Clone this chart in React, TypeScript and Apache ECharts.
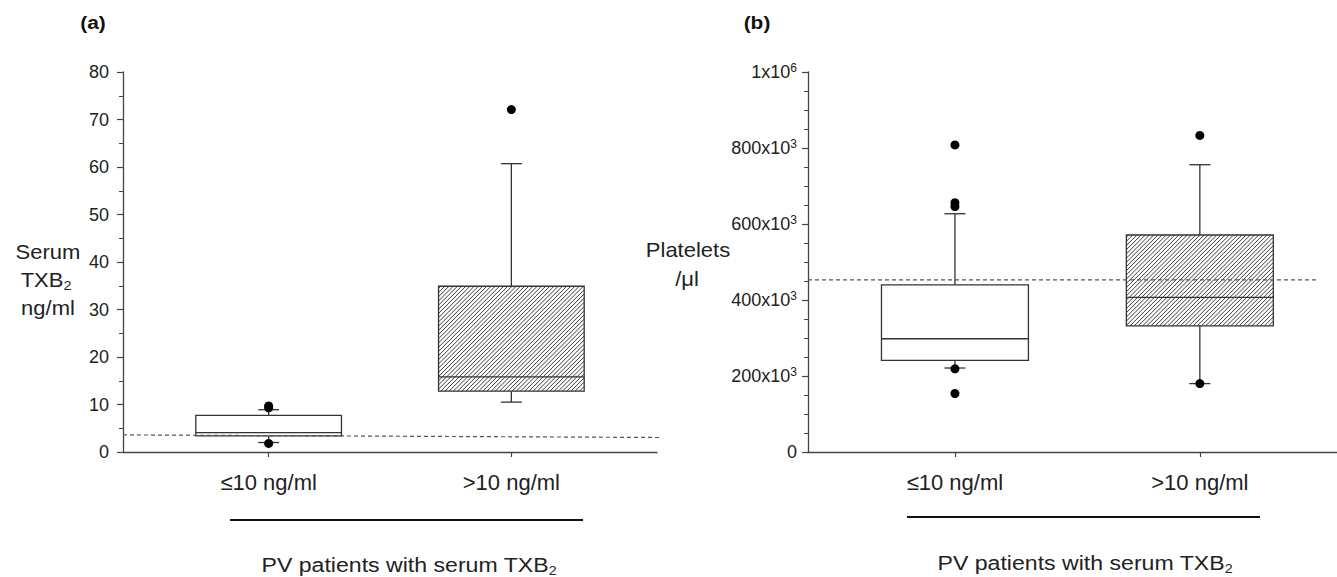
import React, { useEffect, useRef } from "react";
import * as echarts from "echarts";

// ---------- data ----------
const categories = ["≤10 ng/ml", ">10 ng/ml"];
const categoryPositions = [1, 2];

// Panel (a): serum TXB2 (ng/ml)
const txbWhiskerLow = [2.0, 10.5];
const txbQ1 = [3.4, 12.8];
const txbMedian = [4.1, 15.8];
const txbQ3 = [7.7, 34.9];
const txbWhiskerHigh = [8.9, 60.7];
const txbOutlierGroup = [1, 1, 1, 2];
const txbOutlierValue = [9.3, 9.7, 1.8, 72.1];
const txbRefLineX = [0.4, 2.62];
const txbRefLineY = [3.6, 3.05];
const txbTicks = { min: 0, max: 80, interval: 10 };

// Panel (b): platelets /µl
const pltWhiskerLow = [221000, 180000];
const pltQ1 = [241000, 332000];
const pltMedian = [298000, 407000];
const pltQ3 = [440000, 571000];
const pltWhiskerHigh = [627000, 756000];
const pltOutlierGroup = [1, 1, 1, 1, 1, 2, 2];
const pltOutlierValue = [808000, 656000, 646000, 219000, 154000, 180000, 833000];
const pltRefLineX = [0.4, 2.48];
const pltRefLineY = [453000, 453000];
const pltTicks = { min: 0, max: 1000000, interval: 200000 };

// ---------- style ----------
const FONT = "'Liberation Sans', Arial, Helvetica, sans-serif";
const TEXT = "#222";
const AXIS = "#444";
const STROKE = "#333";
const BOX_WIDTH = 0.6;
const CAP_WIDTH = 0.086;
const HATCHED = [false, true];

function boxData(low: number[], q1: number[], med: number[], q3: number[], high: number[]) {
  return categoryPositions.map((x, i) => [x, low[i], q1[i], med[i], q3[i], high[i]]);
}
function outlierData(groups: number[], values: number[]) {
  return groups.map((g, i) => [g, values[i]]);
}

function renderBox(params: any, api: any) {
  const x = api.value(0);
  const low = api.coord([x, api.value(1)]);
  const q1 = api.coord([x, api.value(2)]);
  const med = api.coord([x, api.value(3)]);
  const q3 = api.coord([x, api.value(4)]);
  const high = api.coord([x, api.value(5)]);
  const half = api.size([BOX_WIDTH, 0])[0] / 2;
  const capHalf = api.size([CAP_WIDTH, 0])[0] / 2;
  const cx = low[0];
  const x0 = cx - half;
  const x1 = cx + half;
  const yT = q3[1];
  const yB = q1[1];
  const ls = { stroke: STROKE, lineWidth: 1.3, fill: null };
  const children: any[] = [];
  children.push({ type: "line", shape: { x1: cx, y1: yT, x2: cx, y2: high[1] }, style: ls });
  children.push({ type: "line", shape: { x1: cx, y1: yB, x2: cx, y2: low[1] }, style: ls });
  children.push({ type: "line", shape: { x1: cx - capHalf, y1: high[1], x2: cx + capHalf, y2: high[1] }, style: ls });
  children.push({ type: "line", shape: { x1: cx - capHalf, y1: low[1], x2: cx + capHalf, y2: low[1] }, style: ls });
  children.push({ type: "rect", shape: { x: x0, y: yT, width: x1 - x0, height: yB - yT }, style: { fill: "#fff" } });
  if (HATCHED[params.dataIndex]) {
    const step = 4.2;
    for (let c = x0 + yT + step / 2; c < x1 + yB; c += step) {
      const xa = Math.max(x0, c - yB);
      const xb = Math.min(x1, c - yT);
      if (xb <= xa) continue;
      children.push({
        type: "line",
        shape: { x1: xa, y1: c - xa, x2: xb, y2: c - xb },
        style: { stroke: "#3a3a3a", lineWidth: 1 },
      });
    }
  }
  children.push({ type: "rect", shape: { x: x0, y: yT, width: x1 - x0, height: yB - yT }, style: { ...ls, fill: "none" } });
  children.push({ type: "line", shape: { x1: x0, y1: med[1], x2: x1, y2: med[1] }, style: ls });
  return { type: "group", children };
}

function xAxisFor(gridIndex: number, max: number) {
  return {
    type: "value",
    gridIndex,
    min: 0.4,
    max,
    axisLine: { show: true, lineStyle: { color: AXIS, width: 1.3 } },
    axisTick: { show: true, customValues: categoryPositions, length: 5, lineStyle: { color: AXIS, width: 1.2 } },
    axisLabel: {
      customValues: categoryPositions,
      formatter: (v: number) => categories[Math.round(v) - 1] ?? "",
      fontSize: 22,
      color: TEXT,
      fontFamily: FONT,
      margin: 19,
    },
    splitLine: { show: false },
  };
}

function yAxisFor(gridIndex: number, t: any, minorSplit: number, margin: number, extra: any) {
  return {
    type: "value",
    gridIndex,
    min: t.min,
    max: t.max,
    interval: t.interval,
    axisLine: { show: true, lineStyle: { color: AXIS, width: 1.3 } },
    axisTick: { show: true, length: 6, lineStyle: { color: AXIS, width: 1.2 } },
    minorTick: { show: true, splitNumber: minorSplit, length: 4, lineStyle: { color: AXIS, width: 1 } },
    splitLine: { show: false },
    minorSplitLine: { show: false },
    axisLabel: { fontSize: 18, color: TEXT, fontFamily: FONT, margin, ...extra },
  };
}

function gText(text: string, x: number, y: number, size: number, extra: any = {}) {
  return {
    type: "text",
    x,
    y,
    scaleX: 1.1,
    style: {
      text,
      x: 0,
      y: 0,
      align: "center",
      verticalAlign: "middle",
      fontSize: size,
      fontFamily: FONT,
      fill: TEXT,
      ...extra,
    },
  };
}

const subRich = {
  n: { fontSize: 20, fontFamily: FONT, color: TEXT, lineHeight: 24 },
  sub: { fontSize: 13, fontFamily: FONT, color: TEXT, lineHeight: 11, verticalAlign: "bottom" },
  n2: { fontSize: 21, fontFamily: FONT, color: TEXT, lineHeight: 25 },
};

export default function App() {
  const ref = useRef<HTMLDivElement>(null);
  useEffect(() => {
    if (!ref.current) return;
    const chart = echarts.init(ref.current, null, { renderer: "svg" });
    const option: any = {
      animation: false,
      textStyle: { fontFamily: FONT },
      grid: [
        { left: 123, right: 680, top: 72, bottom: 125, outerBoundsMode: "none" },
        { left: 808, right: 0, top: 72, bottom: 125, outerBoundsMode: "none" },
      ],
      xAxis: [xAxisFor(0, 2.6), xAxisFor(1, 2.56)],
      yAxis: [
        yAxisFor(0, txbTicks, 2, 14, {}),
        yAxisFor(1, pltTicks, 4, 11, {
          formatter: (v: number) => {
            if (v === 0) return "{b|0}";
            if (v >= 1000000) return "{b|" + v / 1000000 + "x10}{sup|6}";
            return "{b|" + v / 1000 + "x10}{sup|3}";
          },
          rich: {
            b: { fontSize: 18, color: TEXT, fontFamily: FONT, lineHeight: 21 },
            sup: { fontSize: 12, color: TEXT, fontFamily: FONT, lineHeight: 9, verticalAlign: "top" },
          },
        }),
      ],
      series: [
        {
          type: "custom",
          xAxisIndex: 0,
          yAxisIndex: 0,
          renderItem: renderBox,
          encode: { x: 0, y: [1, 2, 3, 4, 5] },
          data: boxData(txbWhiskerLow, txbQ1, txbMedian, txbQ3, txbWhiskerHigh),
          silent: true,
          z: 2,
        },
        {
          type: "custom",
          xAxisIndex: 1,
          yAxisIndex: 1,
          renderItem: renderBox,
          encode: { x: 0, y: [1, 2, 3, 4, 5] },
          data: boxData(pltWhiskerLow, pltQ1, pltMedian, pltQ3, pltWhiskerHigh),
          silent: true,
          z: 2,
        },
        {
          type: "scatter",
          xAxisIndex: 0,
          yAxisIndex: 0,
          symbol: "circle",
          symbolSize: 9,
          itemStyle: { color: "#000", opacity: 1 },
          data: outlierData(txbOutlierGroup, txbOutlierValue),
          z: 4,
        },
        {
          type: "scatter",
          xAxisIndex: 1,
          yAxisIndex: 1,
          symbol: "circle",
          symbolSize: 9,
          itemStyle: { color: "#000", opacity: 1 },
          data: outlierData(pltOutlierGroup, pltOutlierValue),
          z: 4,
        },
        {
          type: "line",
          xAxisIndex: 0,
          yAxisIndex: 0,
          showSymbol: false,
          symbol: "none",
          clip: false,
          lineStyle: { color: "#555", width: 1.2, type: [4, 3] },
          data: txbRefLineX.map((x, i) => [x, txbRefLineY[i]]),
          z: 3,
        },
        {
          type: "line",
          xAxisIndex: 1,
          yAxisIndex: 1,
          showSymbol: false,
          symbol: "none",
          clip: false,
          lineStyle: { color: "#555", width: 1.2, type: [4, 3] },
          data: pltRefLineX.map((x, i) => [x, pltRefLineY[i]]),
          z: 3,
        },
      ],
      graphic: [
        gText("(a)", 93, 22, 19, { fontWeight: "bold", fill: "#111" }),
        gText("(b)", 757, 22, 19, { fontWeight: "bold", fill: "#111" }),
        gText("Serum", 48, 252, 20),
        gText("{n|TXB}{sub|2}", 46, 280, 20, { rich: subRich }),
        gText("ng/ml", 48, 308, 20),
        gText("Platelets", 688, 250, 20),
        gText("/μl", 687, 279, 20),
        {
          type: "rect",
          shape: { x: 230, y: 519, width: 353, height: 2 },
          style: { fill: "#111" },
        },
        {
          type: "rect",
          shape: { x: 907, y: 516, width: 353, height: 2 },
          style: { fill: "#111" },
        },
        gText("{n2|PV patients with serum TXB}{sub|2}", 409, 565, 21, { rich: subRich }),
        gText("{n2|PV patients with serum TXB}{sub|2}", 1085, 563, 21, { rich: subRich }),
      ],
    };
    chart.setOption(option);
    return () => chart.dispose();
  }, []);
  return (
    <div
      ref={ref}
      style={{ position: "absolute", left: 0, top: 0, width: 1337, height: 577, background: "#fff" }}
    />
  );
}
